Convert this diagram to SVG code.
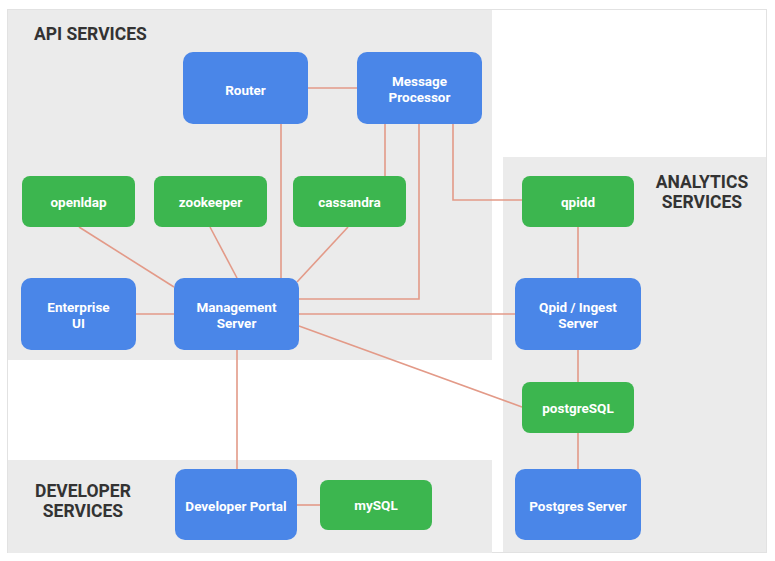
<svg xmlns="http://www.w3.org/2000/svg" width="775" height="561" viewBox="0 0 775 561">
<style>
.panel{fill:#ebebeb}
.blue{fill:#4a86e8}
.green{fill:#3cb64f}
.lbl{font-family:Roboto,"Liberation Sans",sans-serif;font-weight:700;font-size:13.5px;fill:#ffffff;text-anchor:middle}
.head{font-family:Roboto,"Liberation Sans",sans-serif;font-weight:700;font-size:17.5px;fill:#333333}
.conn{fill:none;stroke:#e39a88;stroke-width:1.6}
</style>
<rect x="0" y="0" width="775" height="561" fill="#ffffff"/>
<rect x="7.5" y="9.5" width="759" height="543" fill="#ffffff" stroke="#e2e2e2" stroke-width="1"/>
<g id="panels">
<rect class="panel" x="8" y="10" width="484" height="350"/>
<rect class="panel" x="8" y="460" width="484" height="93"/>
<rect class="panel" x="503" y="157" width="263" height="395"/>
<text class="head" x="34" y="40">API SERVICES</text>
<text class="head" x="83" y="497" text-anchor="middle">DEVELOPER</text>
<text class="head" x="83" y="517" text-anchor="middle">SERVICES</text>
<text class="head" x="702" y="188" text-anchor="middle">ANALYTICS</text>
<text class="head" x="702" y="208" text-anchor="middle">SERVICES</text>
</g>
<g id="connectors">
<line class="conn" x1="308" y1="88" x2="357" y2="88"/>
<line class="conn" x1="281" y1="124" x2="281" y2="278"/>
<line class="conn" x1="385" y1="124" x2="385" y2="176"/>
<polyline class="conn" points="419,124 419,299 299,299"/>
<polyline class="conn" points="453,124 453,200 522,200"/>
<line class="conn" x1="79" y1="227" x2="174" y2="287"/>
<line class="conn" x1="210" y1="227" x2="237" y2="278"/>
<line class="conn" x1="348" y1="227" x2="297" y2="282"/>
<line class="conn" x1="136" y1="314" x2="174" y2="314"/>
<line class="conn" x1="299" y1="314" x2="515" y2="314"/>
<line class="conn" x1="299" y1="326" x2="522" y2="407"/>
<line class="conn" x1="237" y1="350" x2="237" y2="469"/>
<line class="conn" x1="297" y1="505" x2="320" y2="505"/>
<line class="conn" x1="578" y1="227" x2="578" y2="278"/>
<line class="conn" x1="578" y1="350" x2="578" y2="382"/>
<line class="conn" x1="578" y1="433" x2="578" y2="469"/>
</g>
<g id="router"><rect class="blue" x="183" y="52" width="125" height="72" rx="10"/><text class="lbl" x="245.5" y="94.5">Router</text></g>
<g id="message-processor"><rect class="blue" x="357" y="52" width="125" height="72" rx="10"/><text class="lbl" x="419.5" y="86">Message</text><text class="lbl" x="419.5" y="102">Processor</text></g>
<g id="openldap"><rect class="green" x="22" y="176" width="113" height="51" rx="8"/><text class="lbl" x="78.5" y="206.5">openldap</text></g>
<g id="zookeeper"><rect class="green" x="154" y="176" width="113" height="51" rx="8"/><text class="lbl" x="210.5" y="206.5">zookeeper</text></g>
<g id="cassandra"><rect class="green" x="293" y="176" width="113" height="51" rx="8"/><text class="lbl" x="349.5" y="206.5">cassandra</text></g>
<g id="enterprise-ui"><rect class="blue" x="21" y="278" width="115" height="72" rx="10"/><text class="lbl" x="78.5" y="312">Enterprise</text><text class="lbl" x="78.5" y="328">UI</text></g>
<g id="management-server"><rect class="blue" x="174" y="278" width="125" height="72" rx="10"/><text class="lbl" x="236.5" y="312">Management</text><text class="lbl" x="236.5" y="328">Server</text></g>
<g id="qpidd"><rect class="green" x="522" y="176" width="112" height="51" rx="8"/><text class="lbl" x="578" y="206.5">qpidd</text></g>
<g id="qpid-ingest"><rect class="blue" x="515" y="278" width="126" height="72" rx="10"/><text class="lbl" x="578" y="312">Qpid / Ingest</text><text class="lbl" x="578" y="328">Server</text></g>
<g id="postgresql"><rect class="green" x="522" y="382" width="112" height="51" rx="8"/><text class="lbl" x="578" y="412.5">postgreSQL</text></g>
<g id="postgres-server"><rect class="blue" x="515" y="469" width="126" height="71" rx="10"/><text class="lbl" x="578" y="511">Postgres Server</text></g>
<g id="developer-portal"><rect class="blue" x="175" y="469" width="122" height="71" rx="10"/><text class="lbl" x="236" y="511">Developer Portal</text></g>
<g id="mysql"><rect class="green" x="320" y="480" width="112" height="50" rx="8"/><text class="lbl" x="376" y="510">mySQL</text></g>
</svg>
